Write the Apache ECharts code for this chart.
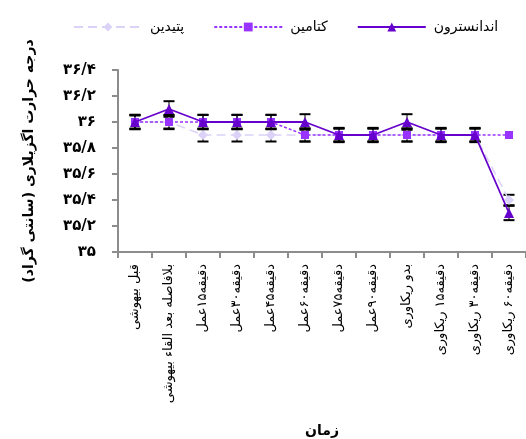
<!DOCTYPE html>
<html>
<head>
<meta charset="utf-8">
<script src="https://cdn.jsdelivr.net/npm/echarts@6/dist/echarts.min.js"></script>
<style>html,body{margin:0;padding:0;background:#fff}#c{width:526px;height:439px}</style>
</head>
<body>
<div id="c"></div>
<script>
const categories = ['قبل بیهوشی','بلافاصله بعد القاء بیهوشی','دقیقه۱۵عمل','دقیقه۳۰عمل','دقیقه۴۵عمل','دقیقه۶۰عمل','دقیقه۷۵عمل','دقیقه۹۰عمل','بدو ریکاوری','دقیقه۱۵ ریکاوری','دقیقه۳۰ ریکاوری','دقیقه۶۰ ریکاوری'];
const yTickLabels = ['۳۵','۳۵/۲','۳۵/۴','۳۵/۶','۳۵/۸','۳۶','۳۶/۲','۳۶/۴'];
const ondansetron = [36.0,36.1,36.0,36.0,36.0,36.0,35.9,35.9,36.0,35.9,35.9,35.3];
const ondansetronErr = [0.055,0.06,0.055,0.055,0.055,0.06,0.055,0.055,0.06,0.055,0.055,0.055];
const ketamine = [36.0,36.0,36.0,36.0,36.0,35.9,35.9,35.9,35.9,35.9,35.9,35.9];
const ketamineErr = [0.055,0.055,0.055,0.055,0.055,0.05,0.05,0.05,0.05,0.05,0.05,0.0];
const pethidine = [36.0,36.0,35.9,35.9,35.9,35.9,35.9,35.9,35.9,35.9,35.9,35.4];
const pethidineErr = [0.05,0.05,0.05,0.05,0.05,0.05,0.05,0.05,0.05,0.05,0.05,0.04];
const names = ['اندانسترون','کتامین','پتیدین'];

const FONT = 'DejaVu Sans';
function errSeries(vals, errs) {
  return {
    type: 'custom', z: 1, silent: true,
    data: vals.map((v, i) => [i, v, errs[i]]),
    renderItem: function (params, api) {
      const x = api.value(0), v = api.value(1), e = api.value(2);
      if (e <= 0) return null;
      const hi = api.coord([x, v + e]), lo = api.coord([x, v - e]);
      const w = 5.5;
      const st = {stroke: '#000', lineWidth: 2};
      return {type: 'group', children: [
        {type: 'line', shape: {x1: hi[0], y1: hi[1], x2: lo[0], y2: lo[1]}, style: {stroke: '#000', lineWidth: 1}},
        {type: 'line', shape: {x1: hi[0]-w, y1: hi[1], x2: hi[0]+w, y2: hi[1]}, style: st},
        {type: 'line', shape: {x1: lo[0]-w, y1: lo[1], x2: lo[0]+w, y2: lo[1]}, style: st}
      ]};
    }
  };
}

const chart = echarts.init(document.getElementById('c'), null, {renderer: 'canvas'});
chart.setOption({
  animation: false,
  textStyle: {fontFamily: FONT},
  legend: {
    data: [names[2], names[1], names[0]],
    left: 68, top: 15, itemWidth: 68, itemHeight: 11, itemGap: 29,
    textStyle: {fontFamily: FONT, fontSize: 14, color: '#000', padding: [0, 0, 0, 3]}
  },
  grid: {left: 118, right: -2, top: 70, bottom: 182, containLabel: false},
  xAxis: {
    type: 'category', data: categories, boundaryGap: true,
    name: 'زمان', nameLocation: 'middle', nameGap: 172,
    nameTextStyle: {fontFamily: FONT, fontSize: 14, fontWeight: 'bold', color: '#000'},
    axisLine: {lineStyle: {color: '#8c8c8c', width: 2}},
    axisTick: {show: true, length: 6, alignWithLabel: false, lineStyle: {color: '#8c8c8c', width: 2}},
    axisLabel: {rotate: 90, interval: 0, margin: 12, fontFamily: FONT, fontSize: 13, color: '#000', padding: [0, 0, 0, 0]}
  },
  yAxis: {
    type: 'value', min: 35, max: 36.4, interval: 0.2,
    name: 'درجه حرارت اگزیلاری (سانتی گراد)', nameLocation: 'middle', nameGap: 82,
    nameTextStyle: {fontFamily: FONT, fontSize: 14, fontWeight: 'bold', color: '#000'},
    splitLine: {show: false},
    axisLine: {show: true, lineStyle: {color: '#8c8c8c', width: 2}},
    axisTick: {show: true, length: 6, lineStyle: {color: '#8c8c8c', width: 2}},
    axisLabel: {margin: 22, fontFamily: FONT, fontSize: 15, fontWeight: 'bold', color: '#000',
      formatter: v => yTickLabels[Math.round((v - 35) / 0.2)]}
  },
  series: [
    errSeries(pethidine, pethidineErr),
    errSeries(ketamine, ketamineErr),
    errSeries(ondansetron, ondansetronErr),
    {name: names[2], type: 'line', data: pethidine, z: 3, symbol: 'diamond', symbolSize: 10,
      itemStyle: {color: '#dcd2f7'}, lineStyle: {color: '#dcd2f7', width: 1.5, type: [9, 5]}},
    {name: names[1], type: 'line', data: ketamine, z: 4, symbol: 'rect', symbolSize: 8,
      itemStyle: {color: '#9933ff'}, lineStyle: {color: '#9933ff', width: 1.5, type: [3, 2]}},
    {name: names[0], type: 'line', data: ondansetron, z: 5, symbol: 'triangle', symbolSize: 10,
      itemStyle: {color: '#6600cc'}, lineStyle: {color: '#6600cc', width: 1.8}}
  ]
});
</script>
</body>
</html>
